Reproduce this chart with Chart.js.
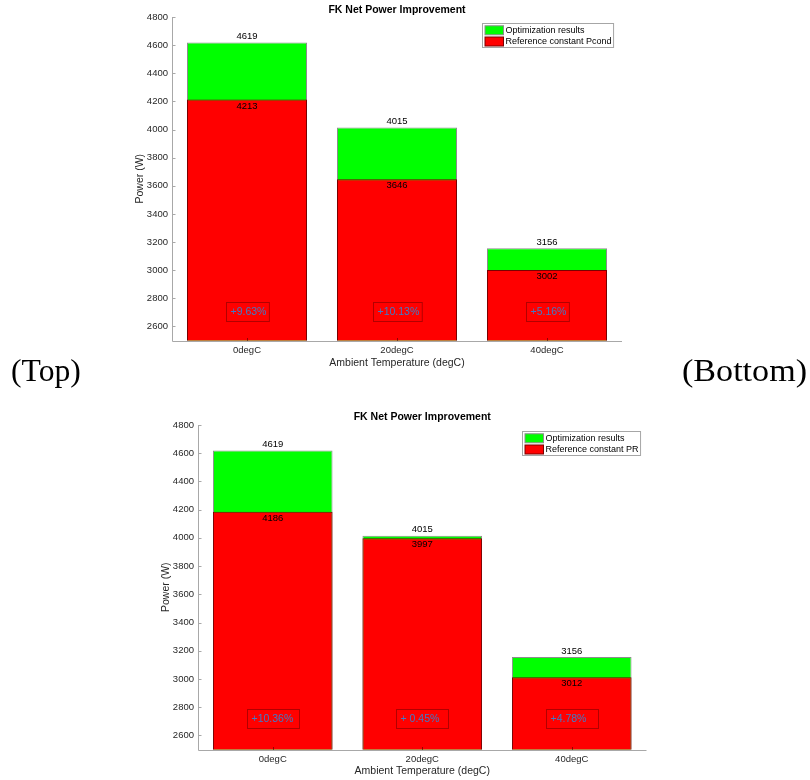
<!DOCTYPE html>
<html>
<head>
<meta charset="utf-8">
<script src="https://cdn.jsdelivr.net/npm/chart.js@4.4.1/dist/chart.umd.min.js"></script>
<style>
  html, body { margin: 0; padding: 0; background: #fff; width: 810px; height: 780px; overflow: hidden; }
  .wrap { position: absolute; left: 0; width: 810px; }
  #wrapTop { top: 0; height: 375px; }
  #wrapBot { top: 395px; height: 385px; }
  canvas { display: block; }
  .tag { position: absolute; font-family: "Liberation Serif", "DejaVu Serif", serif; font-size: 31px; color: #000;
         line-height: 31px; white-space: nowrap; transform-origin: left top; z-index: 5; }
</style>
</head>
<body>
<div class="wrap" id="wrapTop"><canvas id="cTop" width="810" height="375"></canvas></div>
<div class="wrap" id="wrapBot"><canvas id="cBot" width="810" height="385"></canvas></div>
<div class="tag" id="tagTop" style="left:11px; top:355px; transform:scaleX(1.02);">(Top)</div>
<div class="tag" id="tagBot" style="left:682px; top:355px; transform:scaleX(1.1);">(Bottom)</div>

<script>
// ---------------- DATA ----------------
const categories = ['0degC', '20degC', '40degC'];
const yTickValues = [2600, 2800, 3000, 3200, 3400, 3600, 3800, 4000, 4200, 4400, 4600, 4800];

const chartTitle = 'FK Net Power Improvement';
const xAxisTitle = 'Ambient Temperature (degC)';
const yAxisTitle = 'Power (W)';

const optimizedName = 'Optimization results';
const topReferenceName = 'Reference constant Pcond';
const bottomReferenceName = 'Reference constant PR';

const topOptimized = [4619, 4015, 3156];
const topReference = [4213, 3646, 3002];
const topGainLabels = ['+9.63%', '+10.13%', '+5.16%'];

const bottomOptimized = [4619, 4015, 3156];
const bottomReference = [4186, 3997, 3012];
const bottomGainLabels = ['+10.36%', '+ 0.45%', '+4.78%'];

// ---------------- STYLE ----------------
const FONT = '"Liberation Sans", Arial, Helvetica, sans-serif';
const AXIS_COLOR = '#a8a8a8';
const TEXT_COLOR = '#262626';
const GREEN = '#00ff00';
const RED = '#ff0000';
const GAIN_COLOR = '#3d7cc9';

const overlayPlugin = {
  id: 'overlay',
  afterDraw(chart) {
    const cfg = chart.options.plugins.overlay;
    const ctx = chart.ctx;
    const area = chart.chartArea;
    const xs = chart.scales.x, ys = chart.scales.y;
    ctx.save();

    // axis lines redrawn on top of bars
    ctx.strokeStyle = AXIS_COLOR;
    ctx.lineWidth = 1;
    const axX = Math.round(area.left) + 0.5;
    const axY = Math.round(area.bottom) + 0.5;
    ctx.beginPath(); ctx.moveTo(axX, area.top); ctx.lineTo(axX, axY); ctx.lineTo(area.right, axY); ctx.stroke();

    // inward tick marks
    ys.ticks.forEach(t => {
      const py = Math.round(ys.getPixelForValue(t.value)) + 0.5;
      ctx.beginPath(); ctx.moveTo(axX, py); ctx.lineTo(axX + 3, py); ctx.stroke();
    });
    ctx.strokeStyle = 'rgba(60,0,0,0.55)';
    xs.ticks.forEach((t, i) => {
      const px = Math.round(xs.getPixelForTick(i)) + 0.5;
      ctx.beginPath(); ctx.moveTo(px, axY - 0.5); ctx.lineTo(px, axY - 3.5); ctx.stroke();
    });

    // value labels
    ctx.font = '9.5px ' + FONT;
    ctx.fillStyle = '#000';
    ctx.textAlign = 'center';
    ctx.textBaseline = 'middle';
    const optMeta = chart.getDatasetMeta(0);
    const refMeta = chart.getDatasetMeta(1);
    optMeta.data.forEach((bar, i) => {
      ctx.fillText(String(chart.data.datasets[0].data[i]), bar.x, bar.y - 6);
    });
    refMeta.data.forEach((bar, i) => {
      ctx.fillText(String(chart.data.datasets[1].data[i]), bar.x, bar.y + 6.5);
    });

    // gain annotations
    ctx.font = '10.5px ' + FONT;
    ctx.textAlign = 'left';
    const gy = ys.getPixelForValue(cfg.gainValueY);
    cfg.gainLabels.forEach((txt, i) => {
      const cx = xs.getPixelForTick(i);
      const tw = ctx.measureText(txt).width;
      const bw = Math.max(tw + 7, cfg.gainMinBox);
      const bh = 19;
      const bx = Math.round(cx - bw / 2) + 0.5;
      const by = Math.round(gy - bh / 2) + 0.5;
      ctx.strokeStyle = 'rgba(0,0,0,0.3)';
      ctx.lineWidth = 1;
      ctx.strokeRect(bx, by, bw, bh);
      ctx.fillStyle = GAIN_COLOR;
      ctx.fillText(txt, bx + 4, by + bh / 2 + 0.5);
    });

    // legend
    ctx.font = '9px ' + FONT;
    const names = chart.data.datasets.map(d => d.label);
    const maxW = Math.max(...names.map(n => ctx.measureText(n).width));
    const lw = 23 + maxW + 2;
    const lh = 24;
    const lx = Math.round(area.right - cfg.legendRightInset - lw) + 0.5;
    const ly = Math.round(area.top + 6) + 0.5;
    ctx.fillStyle = '#fff';
    ctx.fillRect(lx, ly, lw, lh);
    ctx.strokeStyle = '#a6a6a6';
    ctx.strokeRect(lx, ly, lw, lh);
    chart.data.datasets.forEach((d, i) => {
      const rowY = ly + 6.8 + i * 11.2;
      ctx.fillStyle = d.backgroundColor;
      ctx.fillRect(lx + 2.5, rowY - 4.5, 18.5, 9);
      ctx.strokeStyle = d.borderColor;
      ctx.strokeRect(lx + 2.5, rowY - 4.5, 18.5, 9);
      ctx.fillStyle = '#000';
      ctx.textAlign = 'left';
      ctx.textBaseline = 'middle';
      ctx.fillText(d.label, lx + 23, rowY);
    });

    // title
    ctx.font = 'bold 10.5px ' + FONT;
    ctx.fillStyle = '#000';
    ctx.textAlign = 'center';
    ctx.textBaseline = 'middle';
    ctx.fillText(chartTitle, (area.left + area.right) / 2, area.top + cfg.titleOffset);

    ctx.restore();
  }
};

function makeChart(canvasId, optimized, reference, refName, gainLabels, layout) {
  return new Chart(document.getElementById(canvasId), {
    type: 'bar',
    data: {
      labels: categories,
      datasets: [
        { label: optimizedName, data: optimized, backgroundColor: GREEN, borderColor: '#8c8c8c',
          borderWidth: 1, order: 1, barPercentage: 0.8, categoryPercentage: 1.0, clip: 0 },
        { label: refName, data: reference, backgroundColor: RED, borderColor: '#7a0000',
          borderWidth: 1, order: 0, barPercentage: 0.8, categoryPercentage: 1.0, clip: 0 }
      ]
    },
    options: {
      responsive: false,
      animation: false,
      events: [],
      layout: { padding: layout.padding },
      plugins: {
        legend: { display: false },
        tooltip: { enabled: false },
        title: { display: false },
        overlay: {
          gainLabels: gainLabels,
          gainValueY: layout.gainValueY,
          gainMinBox: layout.gainMinBox,
          legendRightInset: layout.legendRightInset,
          titleOffset: layout.titleOffset
        }
      },
      scales: {
        x: {
          stacked: true,
          offset: true,
          grid: { display: false, drawTicks: false },
          border: { display: false },
          ticks: { font: { family: FONT, size: 9.5 }, color: TEXT_COLOR, padding: 4, maxRotation: 0 },
          title: { display: true, text: xAxisTitle, font: { family: FONT, size: 10.5 }, color: TEXT_COLOR,
                   padding: { top: 0, bottom: layout.xTitlePad } },
          afterFit: (s) => { s.height = layout.xHeight; }
        },
        y: {
          stacked: false,
          min: 2500,
          max: 4800,
          grid: { display: false, drawTicks: false },
          border: { display: false },
          ticks: { font: { family: FONT, size: 9.5 }, color: TEXT_COLOR, padding: 4,
                   callback: (v) => String(v) },
          afterBuildTicks: (s) => { s.ticks = yTickValues.map(v => ({ value: v })); },
          title: { display: true, text: yAxisTitle, font: { family: FONT, size: 10.5 }, color: TEXT_COLOR,
                   padding: { top: layout.yTitlePad, bottom: 0 } },
          afterFit: (s) => { s.width = 45; }
        }
      }
    },
    plugins: [overlayPlugin]
  });
}

makeChart('cTop', topOptimized, topReference, topReferenceName, topGainLabels, {
  padding: { left: 127, right: 188, top: 17, bottom: 0 },
  xHeight: 34.5, xTitlePad: 6, yTitlePad: 6.7,
  gainValueY: 2703, gainMinBox: 0, legendRightInset: 8.5, titleOffset: -7
});

makeChart('cBot', bottomOptimized, bottomReference, bottomReferenceName, bottomGainLabels, {
  padding: { left: 153, right: 163.5, top: 30, bottom: 0 },
  xHeight: 30.5, xTitlePad: 2.7, yTitlePad: 6.7,
  gainValueY: 2720, gainMinBox: 52, legendRightInset: 6.5, titleOffset: -8
});
</script>
</body>
</html>
